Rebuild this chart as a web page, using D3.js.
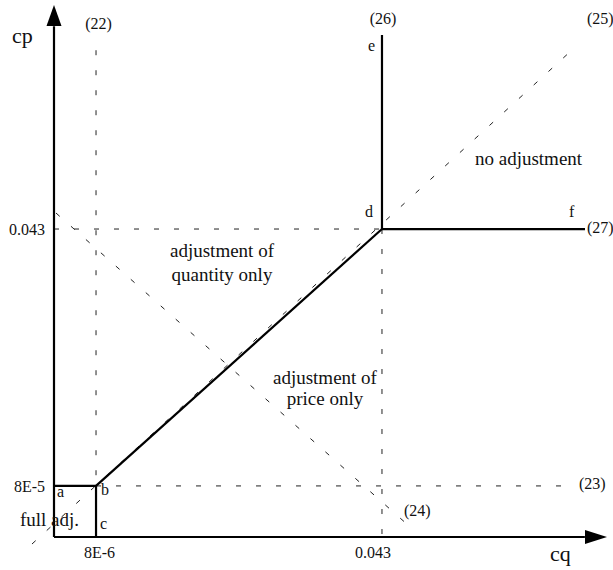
<!DOCTYPE html>
<html><head><meta charset="utf-8">
<script src="https://cdn.jsdelivr.net/npm/d3@7"></script>
<style>html,body{margin:0;padding:0;background:#fff}svg{display:block}text{font-family:"Liberation Serif","Times New Roman",serif;fill:#111}</style>
</head><body>
<script>
// Schematic units: both axes run 0..100 (axis arrow tips at 100)
const axisExtent = [0, 100];
const xTickValues = [7.6, 59.31];
const xTickLabels = ["8E-6", "0.043"];
const yTickValues = [9.6, 57.89];
const yTickLabels = ["8E-5", "0.043"];

// Solid regime boundaries (a-b, b-c, b-d, d-e, d-f)
const solidSegments = [
  [[0, 9.6], [7.6, 9.6]],
  [[7.6, 9.6], [7.6, 0]],
  [[7.6, 9.6], [59.31, 57.89]],
  [[59.31, 57.89], [59.31, 94.36]],
  [[59.31, 57.89], [96.02, 57.89]]
];
// Dashed reference lines (22),(23),(24),(25), and 0.043 guides
const dashedSegments = [
  [[7.6, 91.5], [7.6, 0]],
  [[7.6, 9.6], [92.95, 9.6]],
  [[0.36, 60.9], [64.0, 2.26]],
  [[-3.98, -1.32], [93.67, 91.54]],
  [[0, 57.89], [59.31, 57.89]],
  [[59.31, 57.89], [59.31, 0]]
];
// Annotations: [text, x, y, anchor, fontSize]
const annotations = [
  ["cp", -7.59, 92.86, "start", 22],
  ["cq", 89.69, -4.51, "start", 22],
  ["(22)", 8.05, 95.49, "middle", 16],
  ["(26)", 59.49, 96.43, "middle", 16],
  ["(25)", 96.38, 96.43, "start", 16],
  ["(27)", 96.38, 57.14, "start", 16],
  ["(23)", 94.94, 9.02, "start", 16],
  ["(24)", 63.29, 3.95, "start", 16],
  ["e", 56.78, 91.35, "start", 16],
  ["d", 56.24, 60.15, "start", 16],
  ["f", 93.13, 60.15, "start", 16],
  ["a", 0.54, 7.52, "start", 16],
  ["b", 8.50, 7.89, "start", 16],
  ["c", 8.32, 1.5, "start", 16],
  ["no adjustment", 76.13, 69.92, "start", 19],
  ["adjustment of", 30.38, 52.63, "middle", 19],
  ["quantity only", 30.38, 48.12, "middle", 19],
  ["adjustment of", 49.0, 28.76, "middle", 19],
  ["price only", 49.0, 24.81, "middle", 19],
  ["full adj.", -6.15, 2.07, "start", 19]
];

const W = 613, H = 570;
const svg = d3.select("body").append("svg").attr("width", W).attr("height", H);
const x = d3.scaleLinear().domain(axisExtent).range([54, 607]);
const y = d3.scaleLinear().domain(axisExtent).range([537, 5]);
const line = d3.line().x(d => x(d[0])).y(d => y(d[1]));

// dashed lines
svg.append("g").selectAll("path").data(dashedSegments).join("path")
  .attr("d", line).attr("fill", "none").attr("stroke", "#222")
  .attr("stroke-width", 1).attr("stroke-dasharray", "5,15");

// solid lines
svg.append("g").selectAll("path").data(solidSegments).join("path")
  .attr("d", line).attr("fill", "none").attr("stroke", "#000")
  .attr("stroke-width", 2.2);

// axes (drawn through d3 axes, no ticks) + arrowheads
const xAxis = d3.axisBottom(x).tickValues(xTickValues).tickSize(0)
  .tickFormat((d, i) => xTickLabels[i]);
const gx = svg.append("g").attr("transform", `translate(0,${y(0)})`).call(xAxis);
gx.attr("font-family", null);
gx.select(".domain").remove();
gx.selectAll("text").attr("font-size", 16).attr("fill", "#111")
  .attr("y", 0).attr("dy", 0).attr("transform", "translate(0,21)")
  .attr("dx", (d, i) => i === 1 ? -9.5 : 3);

const yAxis = d3.axisLeft(y).tickValues(yTickValues).tickSize(0)
  .tickFormat((d, i) => yTickLabels[i]);
const gy = svg.append("g").attr("transform", `translate(${x(0)},0)`).call(yAxis);
gy.attr("font-family", null);
gy.select(".domain").remove();
gy.selectAll("text").attr("font-size", 16).attr("fill", "#111")
  .attr("x", -9).attr("dy", "0.35em");

const axisColor = "#000";
svg.append("path").attr("d", line([[0, 0], [0, 96]])).attr("stroke", axisColor).attr("stroke-width", 2.2);
svg.append("path").attr("d", line([[0, 0], [96, 0]])).attr("stroke", axisColor).attr("stroke-width", 2.2);
svg.append("path").attr("fill", axisColor)
  .attr("d", `M${x(0)},${y(100)} L${x(0) - 7.5},${y(96.05)} L${x(0) + 7.5},${y(96.05)} Z`);
svg.append("path").attr("fill", axisColor)
  .attr("d", `M${x(100)},${y(0)} L${x(96.02)},${y(0) - 7} L${x(96.02)},${y(0) + 7} Z`);

// annotations
svg.append("g").selectAll("text").data(annotations).join("text")
  .attr("x", d => x(d[1])).attr("y", d => y(d[2]))
  .attr("text-anchor", d => d[3]).attr("font-size", d => d[4])
  .text(d => d[0]);
</script>
</body></html>
